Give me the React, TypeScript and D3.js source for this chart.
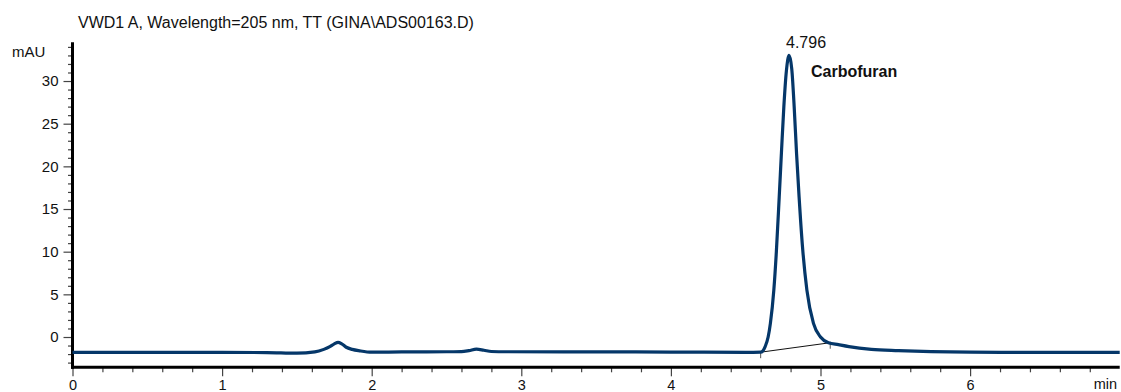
import React, { useEffect, useRef } from 'react'
import * as d3 from 'd3'

// retention time (min) and detector signal (mAU)
const times = [0, 0.5, 1.0, 1.3, 1.5, 1.62, 1.68, 1.72, 1.75, 1.775, 1.8, 1.83, 1.87, 1.92, 2.0, 2.2, 2.5, 2.6, 2.65, 2.7, 2.75, 2.8, 2.9, 3.5, 4.0, 4.5, 4.6, 4.63, 4.65, 4.665, 4.688, 4.705, 4.724, 4.74, 4.755, 4.772, 4.79, 4.808, 4.824, 4.84, 4.857, 4.88, 4.909, 4.953, 5.0, 5.053, 5.12, 5.19, 5.34, 5.52, 5.74, 6.0, 6.5, 7.0]
const signal = [-1.8, -1.8, -1.8, -1.82, -1.9, -1.75, -1.45, -1.13, -0.8, -0.62, -0.8, -1.2, -1.45, -1.62, -1.78, -1.75, -1.73, -1.72, -1.6, -1.42, -1.55, -1.7, -1.73, -1.74, -1.76, -1.8, -1.78, -1.13, 0.0, 1.6, 5.5, 10.0, 16.4, 22.0, 27.0, 31.2, 33.0, 31.4, 27.0, 21.5, 16.4, 10.5, 5.5, 1.6, 0.0, -0.67, -0.9, -1.13, -1.45, -1.6, -1.72, -1.78, -1.8, -1.8]

// integration baseline under the peak
const baseTimes = [4.6, 5.065]
const baseValues = [-1.78, -0.67]

const yMajor = [0, 5, 10, 15, 20, 25, 30]
const xMajor = [0, 1, 2, 3, 4, 5, 6]

const peakTime = '4.796'
const peakName = 'Carbofuran'
const title = 'VWD1 A, Wavelength=205 nm, TT (GINA\\ADS00163.D)'

const W = 1121
const H = 392
const FONT = '"Liberation Sans", Arial, sans-serif'

export default function App() {
  const ref = useRef<SVGSVGElement>(null)

  useEffect(() => {
    const svg = d3.select(ref.current)
    svg.selectAll('*').remove()

    const x = d3.scaleLinear().domain([0, 7]).range([72.5, 1119.7])
    const y = d3.scaleLinear().domain([-3.55, 34.55]).range([367.3, 42.2])

    // minor ticks
    const yMinor = d3.range(-3, 35).filter(v => !yMajor.includes(v))
    const xMinor = d3.range(1, 35).map(i => i * 0.2).filter(v => Math.abs(v - Math.round(v)) > 0.01)

    svg.append('g')
      .attr('transform', `translate(${x(0)},0)`)
      .call(d3.axisLeft(y).tickValues(yMinor).tickSize(4.5).tickFormat(() => ''))
      .call(g => g.select('.domain').remove())
      .call(g => g.selectAll('line').attr('stroke', '#444').attr('stroke-width', 1.2))

    svg.append('g')
      .attr('transform', `translate(${x(0)},0)`)
      .call(d3.axisLeft(y).tickValues(yMajor).tickSize(9).tickPadding(5).tickFormat(d3.format('d')))
      .call(g => g.select('.domain').remove())
      .call(g => g.selectAll('line').attr('stroke', '#444').attr('stroke-width', 1.2))
      .call(g => g.selectAll('text').attr('font-size', 15).attr('font-family', FONT).attr('fill', '#111'))

    svg.append('g')
      .attr('transform', `translate(0,${y(-3.55)})`)
      .call(d3.axisBottom(x).tickValues(xMinor).tickSize(5).tickFormat(() => ''))
      .call(g => g.select('.domain').remove())
      .call(g => g.selectAll('line').attr('stroke', '#444').attr('stroke-width', 1.2))

    // labels sit close to the bottom edge, nudged up so they stay whole
    svg.append('g')
      .attr('transform', `translate(0,${y(-3.55)})`)
      .call(d3.axisBottom(x).tickValues(xMajor).tickSize(9).tickPadding(3).tickFormat(d3.format('d')))
      .call(g => g.select('.domain').remove())
      .call(g => g.selectAll('line').attr('stroke', '#444').attr('stroke-width', 1.2))
      .call(g => g.selectAll('text').attr('font-size', 14.5).attr('font-family', FONT).attr('fill', '#111'))

    // thick axis lines
    svg.append('line')
      .attr('x1', x(0)).attr('x2', x(0))
      .attr('y1', y(34.55)).attr('y2', y(-3.55) + 1.5)
      .attr('stroke', '#000').attr('stroke-width', 3)
    svg.append('line')
      .attr('x1', x(0) - 1.5).attr('x2', x(7))
      .attr('y1', y(-3.55)).attr('y2', y(-3.55))
      .attr('stroke', '#000').attr('stroke-width', 3)

    // integration baseline with its end markers
    svg.append('line')
      .attr('x1', x(baseTimes[0])).attr('y1', y(baseValues[0]))
      .attr('x2', x(baseTimes[1])).attr('y2', y(baseValues[1]))
      .attr('stroke', '#111').attr('stroke-width', 1)
    baseTimes.forEach((t, i) => {
      svg.append('line')
        .attr('x1', x(t)).attr('x2', x(t))
        .attr('y1', y(baseValues[i]) - 1).attr('y2', y(baseValues[i]) + 6)
        .attr('stroke', '#555').attr('stroke-width', 1)
    })

    // signal trace
    const pts = times.map((t, i) => [t, signal[i]] as [number, number])
    const line = d3.line<[number, number]>()
      .x(d => x(d[0]))
      .y(d => y(d[1]))
      .curve(d3.curveMonotoneX)
    svg.append('path')
      .attr('d', line(pts))
      .attr('fill', 'none')
      .attr('stroke', '#053769')
      .attr('stroke-width', 3.2)
      .attr('stroke-linejoin', 'round')

    // texts
    svg.append('text')
      .attr('x', 78).attr('y', 28)
      .attr('font-size', 16).attr('font-family', FONT).attr('fill', '#111')
      .text(title)
    svg.append('text')
      .attr('x', 12).attr('y', 57)
      .attr('font-size', 15).attr('font-family', FONT).attr('fill', '#111')
      .text('mAU')
    svg.append('text')
      .attr('x', 1117).attr('y', 389)
      .attr('text-anchor', 'end')
      .attr('font-size', 14.5).attr('font-family', FONT).attr('fill', '#111')
      .text('min')
    svg.append('text')
      .attr('x', 786).attr('y', 48)
      .attr('font-size', 16).attr('font-family', FONT).attr('fill', '#111')
      .text(peakTime)
    svg.append('text')
      .attr('x', 811).attr('y', 77)
      .attr('font-size', 16).attr('font-weight', 'bold').attr('font-family', FONT).attr('fill', '#111')
      .text(peakName)
  }, [])

  return (
    <svg
      ref={ref}
      width={W}
      height={H}
      style={{ position: 'absolute', left: 0, top: 0, background: '#fff' }}
    />
  )
}
